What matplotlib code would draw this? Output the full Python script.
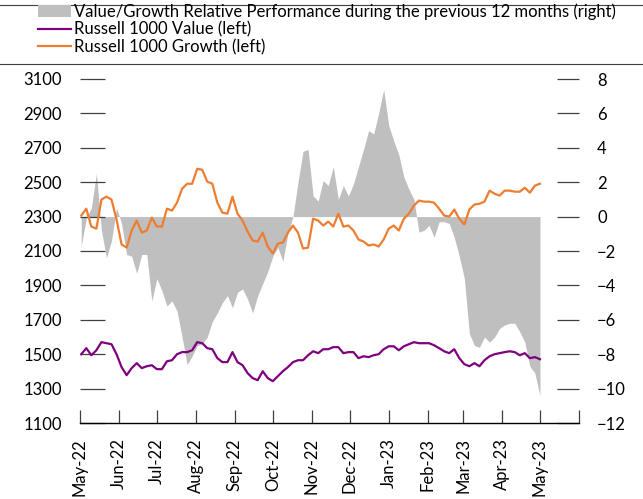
import matplotlib
matplotlib.use("Agg")
import matplotlib.pyplot as plt
import matplotlib.dates as mdates
from matplotlib.patches import Patch
from matplotlib.lines import Line2D
import pandas as pd

plt.rcParams['font.family'] = ['Lato', 'DejaVu Sans']

# sampling dates (every 4 days, May-2022 to May-2023)
dates = pd.date_range("2022-05-02", periods=92, freq="4D")

growth = [2306, 2346, 2242, 2230, 2399, 2416, 2399, 2283, 2138, 2120,
          2219, 2277, 2207, 2219, 2294, 2242, 2242, 2346, 2335, 2381,
          2462, 2491, 2491, 2578, 2572, 2503, 2491, 2381, 2323, 2317,
          2416, 2317, 2277, 2213, 2161, 2155, 2207, 2126, 2086, 2143,
          2149, 2207, 2248, 2207, 2114, 2120, 2288, 2277, 2248, 2271,
          2242, 2317, 2242, 2248, 2219, 2167, 2155, 2132, 2138, 2126,
          2167, 2230, 2248, 2219, 2288, 2317, 2364, 2393, 2387, 2387,
          2381, 2346, 2306, 2300, 2341, 2288, 2254, 2341, 2370, 2375,
          2387, 2451, 2433, 2422, 2451, 2451, 2445, 2445, 2468, 2439,
          2480, 2491]

value = [1500, 1535, 1494, 1523, 1570, 1564, 1558, 1500, 1425, 1378,
         1419, 1448, 1419, 1430, 1436, 1413, 1413, 1459, 1465, 1500,
         1512, 1512, 1523, 1570, 1564, 1535, 1529, 1477, 1454, 1454,
         1512, 1454, 1436, 1390, 1361, 1349, 1401, 1361, 1343, 1372,
         1401, 1425, 1454, 1465, 1465, 1494, 1517, 1506, 1529, 1529,
         1541, 1541, 1506, 1512, 1512, 1477, 1488, 1483, 1494, 1500,
         1529, 1546, 1546, 1523, 1546, 1558, 1570, 1564, 1564, 1564,
         1552, 1535, 1517, 1506, 1529, 1477, 1442, 1430, 1448, 1430,
         1465, 1488, 1500, 1506, 1512, 1517, 1512, 1494, 1506, 1477,
         1483, 1471]

relative = [-1.7, -0.1, 0.5, 2.5, -0.8, -2.4, -1.4, 0.5, -0.4, -2.2,
            -2.3, -3.3, -2.2, -2.2, -4.9, -3.6, -4.3, -5.2, -4.9, -5.5,
            -7.0, -8.6, -8.1, -7.5, -7.4, -7.0, -6.1, -5.6, -5.0, -4.6,
            -5.3, -4.4, -4.2, -4.8, -5.6, -4.6, -3.9, -3.2, -2.3, -1.8,
            -2.6, -1.0, 0.0, 2.0, 3.8, 3.9, 1.2, 0.9, 2.1, 1.8,
            2.9, 1.0, 1.8, 1.2, 1.9, 2.9, 3.9, 5.0, 4.8, 6.0,
            7.4, 5.3, 4.4, 3.6, 2.3, 1.6, 1.0, -0.9, -0.8, -0.5,
            -1.2, -0.3, -0.3, -0.4, -1.2, -2.3, -3.6, -6.8, -7.5, -7.6,
            -7.0, -7.3, -7.0, -6.5, -6.3, -6.2, -6.2, -6.7, -7.3, -8.7,
            -9.1, -10.4]

left_ticks = list(range(1100, 3101, 200))
right_ticks = list(range(-12, 9, 2))

labels = ["Value/Growth Relative Performance during the previous 12 months (right)",
          "Russell 1000 Value (left)",
          "Russell 1000 Growth (left)"]

GRAY = "#BFBFBF"
PURPLE = "#7F007F"
ORANGE = "#ED7D31"
TICKC = "#404040"
FS = 12

fig = plt.figure(figsize=(6.43, 4.99), dpi=100)
ax = fig.add_axes([80/643, 1-423/499, (579-80)/643, (423-79)/499])
axr = ax.twinx()
ax.set_zorder(axr.get_zorder() + 1)
ax.patch.set_visible(False)

axr.fill_between(dates, 0, relative, color=GRAY, linewidth=0)
ax.plot(dates, value, color=PURPLE, lw=1.6)
ax.plot(dates, growth, color=ORANGE, lw=1.6)

ax.set_xlim(pd.Timestamp("2022-05-01"), pd.Timestamp("2023-06-01"))
ax.set_ylim(1100, 3100)
axr.set_ylim(-12, 8)
ax.set_yticks(left_ticks)
axr.set_yticks(right_ticks)

month_ticks = pd.date_range("2022-05-01", "2023-06-01", freq="MS")
ax.set_xticks(month_ticks)
ax.set_xticklabels([d.strftime("%b-%y") if i < len(month_ticks) - 1 else ""
                    for i, d in enumerate(month_ticks)], rotation=90)

for a in (ax, axr):
    for s in ("top", "left", "right"):
        a.spines[s].set_visible(False)
axr.spines["bottom"].set_visible(False)
ax.spines["bottom"].set_color("#000000")
ax.spines["bottom"].set_linewidth(1.0)

ax.tick_params(axis="y", direction="in", length=18, width=0.9, color=TICKC,
               pad=13, labelsize=FS)
axr.tick_params(axis="y", direction="in", length=16, width=0.9, color=TICKC,
                pad=13, labelsize=FS)
ax.tick_params(axis="x", direction="in", length=9.5, width=0.9, color=TICKC,
               pad=11, labelsize=FS)

handles = [Patch(facecolor=GRAY, edgecolor="none"),
           Line2D([], [], color=PURPLE, lw=1.6),
           Line2D([], [], color=ORANGE, lw=1.6)]
fig.legend(handles, labels, loc="upper left", bbox_to_anchor=(38/643, 1-3/499),
           frameon=False, fontsize=FS, handlelength=2.0, handleheight=0.7,
           handletextpad=0.15, labelspacing=0.1, borderaxespad=0, borderpad=0)

fig.add_artist(Line2D([0, 1], [1-5/499, 1-5/499], transform=fig.transFigure,
                      color="#404040", lw=0.8))
fig.add_artist(Line2D([0, 1], [1-64/499, 1-64/499], transform=fig.transFigure,
                      color="#404040", lw=0.8))

fig.savefig("out.png", dpi=100)
